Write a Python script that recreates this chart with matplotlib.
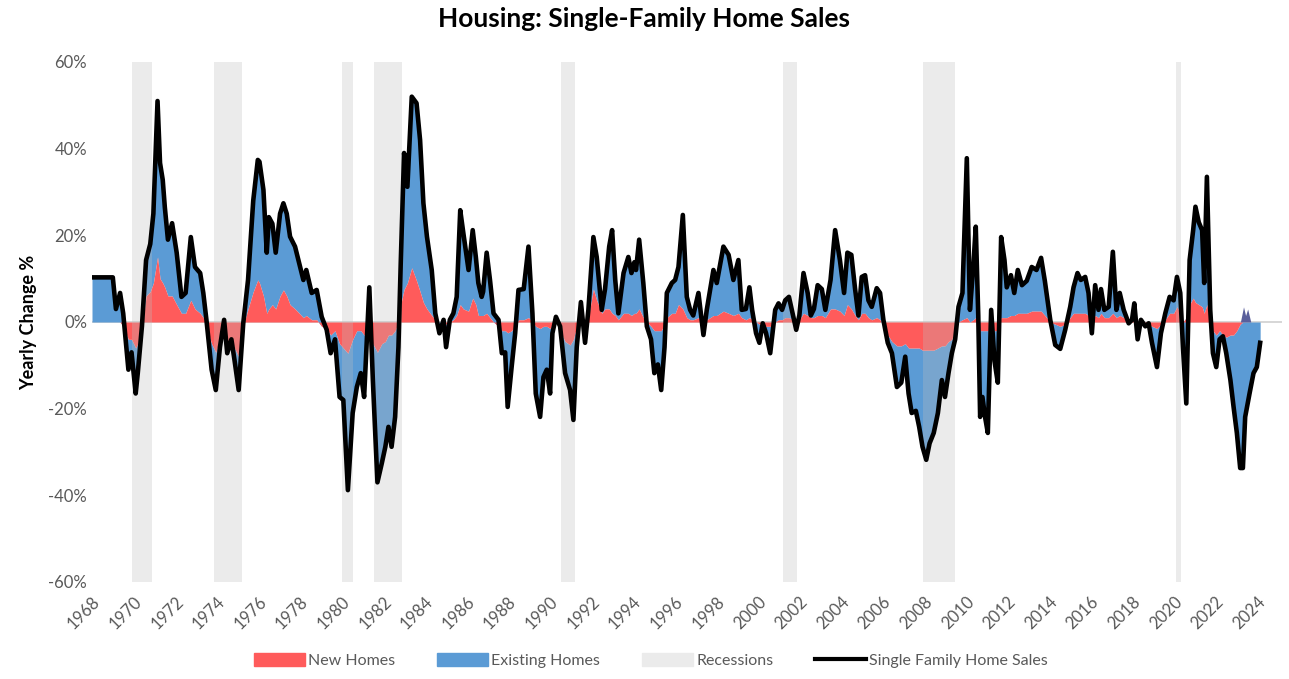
import matplotlib
matplotlib.use("Agg")
import matplotlib.pyplot as plt
import matplotlib.patches as mpatches
import matplotlib.lines as mlines
import numpy as np

plt.rcParams['font.family'] = ['Lato', 'DejaVu Sans']

# decimal year, total yearly change %, new-home contribution %
dates = [
    1968.0, 1969.0, 1969.15, 1969.35, 1969.5, 1969.75, 1969.9, 1970.1, 1970.2, 1970.4,
    1970.6, 1970.8, 1970.95, 1971.15, 1971.27, 1971.4, 1971.5, 1971.65, 1971.85, 1972.07,
    1972.3, 1972.5, 1972.75, 1972.95, 1973.2, 1973.35, 1973.5, 1973.75, 1973.95, 1974.15,
    1974.35, 1974.5, 1974.7, 1974.85, 1975.05, 1975.27, 1975.5, 1975.75, 1975.97, 1976.05,
    1976.24, 1976.4, 1976.5, 1976.67, 1976.83, 1977.04, 1977.2, 1977.36, 1977.52, 1977.76,
    1978.16, 1978.3, 1978.56, 1978.8, 1979.04, 1979.28, 1979.47, 1979.68, 1979.9, 1980.08,
    1980.3, 1980.53, 1980.73, 1980.92, 1981.08, 1981.33, 1981.5, 1981.72, 1981.93, 1982.1,
    1982.25, 1982.4, 1982.57, 1982.73, 1982.84, 1983.0, 1983.16, 1983.37, 1983.6, 1983.77,
    1983.93, 1984.1, 1984.33, 1984.5, 1984.7, 1984.9, 1985.02, 1985.2, 1985.37, 1985.53,
    1985.7, 1985.85, 1986.1, 1986.3, 1986.45, 1986.57, 1986.73, 1986.8, 1986.97, 1987.13,
    1987.3, 1987.54, 1987.7, 1987.86, 1987.98, 1988.17, 1988.34, 1988.5, 1988.75, 1988.98,
    1989.17, 1989.33, 1989.54, 1989.7, 1989.86, 1990.02, 1990.13, 1990.3, 1990.5, 1990.74,
    1990.98, 1991.14, 1991.3, 1991.5, 1991.7, 1991.86, 1992.1, 1992.26, 1992.5, 1992.66,
    1992.86, 1993.0, 1993.15, 1993.3, 1993.55, 1993.78, 1993.93, 1994.07, 1994.15, 1994.3,
    1994.5, 1994.67, 1994.87, 1995.03, 1995.2, 1995.36, 1995.52, 1995.63, 1995.87, 1996.03,
    1996.19, 1996.4, 1996.59, 1996.75, 1996.9, 1997.15, 1997.39, 1997.55, 1997.87, 1998.03,
    1998.35, 1998.6, 1998.83, 1999.07, 1999.23, 1999.43, 1999.6, 1999.73, 1999.92, 2000.08,
    2000.24, 2000.4, 2000.6, 2000.84, 2001.0, 2001.17, 2001.32, 2001.5, 2001.7, 2001.85,
    2002.0, 2002.2, 2002.4, 2002.55, 2002.7, 2002.88, 2003.08, 2003.25, 2003.5, 2003.72,
    2003.95, 2004.15, 2004.31, 2004.5, 2004.68, 2004.84, 2005.0, 2005.16, 2005.32, 2005.48,
    2005.72, 2005.88, 2006.04, 2006.25, 2006.45, 2006.69, 2006.9, 2007.09, 2007.25, 2007.4,
    2007.6, 2007.76, 2007.92, 2008.1, 2008.26, 2008.46, 2008.66, 2008.85, 2009.0, 2009.17,
    2009.33, 2009.49, 2009.65, 2009.84, 2010.05, 2010.2, 2010.36, 2010.48, 2010.6, 2010.69,
    2010.8, 2010.93, 2011.06, 2011.22, 2011.38, 2011.54, 2011.7, 2011.86, 2011.97, 2012.17,
    2012.33, 2012.5, 2012.7, 2012.93, 2013.17, 2013.4, 2013.62, 2013.8, 2014.06, 2014.3,
    2014.54, 2014.78, 2015.02, 2015.18, 2015.37, 2015.53, 2015.74, 2015.9, 2016.06, 2016.22,
    2016.38, 2016.5, 2016.66, 2016.87, 2017.07, 2017.24, 2017.4, 2017.59, 2017.83, 2017.99,
    2018.1, 2018.26, 2018.42, 2018.63, 2018.79, 2018.95, 2019.19, 2019.38, 2019.59, 2019.8,
    2019.99, 2020.15, 2020.31, 2020.44, 2020.6, 2020.76, 2020.93, 2021.04, 2021.2, 2021.36,
    2021.46, 2021.59, 2021.75, 2021.88, 2022.04, 2022.2, 2022.36, 2022.52, 2022.72, 2022.87,
    2023.03, 2023.19, 2023.32, 2023.43, 2023.64, 2023.83, 2023.99, 2024.15,
]
total = [
    10.3, 10.3, 3.0, 6.7, 2.0, -11, -7, -16.5, -11.8, -1,
    14.3, 18, 25, 51, 36.7, 32.8, 26.5, 19, 22.8, 16,
    5.8, 6.7, 19.6, 12.7, 11.3, 6.7, 0.5, -11, -15.7, -5.8,
    0.5, -7.2, -4, -8.8, -15.7, -0.3, 9.7, 28, 37.4, 37,
    30.5, 16, 24.2, 22.7, 16, 25, 27.4, 25, 19.7, 17.4,
    9.7, 12, 6.7, 7.4, 1.2, -1.8, -7.2, -4, -17.3, -18,
    -38.8, -21, -15, -11.8, -17.3, 8, -13.4, -37, -32.6, -28.8,
    -24.2, -28.8, -21.9, -5.8, 13.6, 39, 31.2, 52, 50.5, 42,
    27.4, 19.7, 12, 2, -2.6, 0.5, -5.8, 0.5, 2, 5.8,
    25.8, 20.5, 12, 21.2, 15, 9, 5.8, 7, 16, 9.7,
    2, 0.5, -7.2, -7, -19.6, -10.4, -2.6, 7.4, 7.6, 17.4,
    2, -16.5, -21.9, -12.7, -11, -16.5, -2.6, 1.2, -1, -11.8,
    -15.7, -22.6, -5.8, 4.6, -4.8, 2.8, 19.6, 15, 2.8, 7.6,
    17.4, 21.2, 9.7, 2, 11.3, 15, 11.3, 13.8, 12, 19,
    9, -1, -4, -11.8, -9.8, -15.7, -5.8, 6.7, 9, 9.7,
    12.7, 24.7, 5.8, 2.8, 1.5, 6.7, -3, 2.8, 12, 9,
    17.4, 15.5, 9.7, 14.3, 2.8, 3, 8, 2.8, -2.6, -4.8,
    -0.3, -2.6, -7.2, 2.8, 4.3, 2.8, 5, 5.8, 1.5, -1.8,
    1.5, 11.3, 6.7, 1.5, 3, 8.5, 7.6, 2.8, 9.7, 21.2,
    14.3, 6.7, 16, 15.5, 7.6, 1.5, 10.4, 10.8, 5, 3.5,
    7.8, 6.7, 0.5, -4.8, -7.2, -15, -14, -8, -16.5, -21,
    -20.5, -24.2, -28.8, -31.8, -28, -25.6, -21, -13.4, -17.3, -11.8,
    -7.2, -4, 3.5, 6.7, 37.8, 2.8, 12.7, 22, 1.5, -21.9,
    -17.3, -22, -25.6, 2.8, -9, -14, 19.6, 14.3, 8, 10.8,
    6.7, 12, 8.5, 9.5, 12.7, 12, 14.8, 9.5, 0.5, -5.3,
    -6.2, -1.8, 3.5, 8, 11.3, 9.7, 10.4, 6.7, -2.6, 8.5,
    2.8, 7.6, 2.8, 3.5, 16.2, 2.8, 6.7, 2.8, -0.3, 0.5,
    4.3, -4, 0.5, -1, -0.3, -4.8, -10.4, -2.6, 2, 5.8,
    5, 10.4, 6.7, -5.8, -18.8, 14.3, 21.2, 26.6, 23, 21.2,
    9, 33.5, 2.8, -7.2, -10.4, -4, -3.3, -7.2, -13.4, -19.5,
    -25.6, -33.7, -33.7, -21.9, -16.5, -11.8, -10.4, -4.8,
]
new_homes = [
    0, 0, 0, 0, -1, -4, -4, -6, -5, -2,
    6, 7, 9, 15, 10, 9, 8, 6, 6, 4,
    2, 2, 5, 3, 2, 1, -1, -5, -7, -4,
    -2, -5, -4, -6, -8, -1, 3, 7, 9.7, 9,
    6, 2, 3, 4, 3, 6, 7.4, 6, 4, 3,
    1, 1.5, 0.5, 0.5, -1, -1.5, -3, -2, -5, -6,
    -7.2, -4, -2, -2, -3, -3, -5, -7, -5, -4.5,
    -3, -3, -2, 0, 4, 7.5, 9, 12.5, 9.5, 7,
    4.5, 3, 1.5, 0.5, 0, 0, -0.5, 0, 0.5, 1.5,
    4, 3, 2.5, 5.5, 4, 1.5, 1.5, 1.5, 2, 1,
    0, -1, -2, -2, -2.5, -2, -1, 0.5, 0.5, 1,
    0, -1, -1.5, -1, -1, -1.5, -0.5, 0, -2, -4.5,
    -5.3, -4, -1, 1, 0, 1, 7.6, 5, 2, 3,
    3, 2, 1.5, 0.5, 2, 2, 1.5, 2, 2, 3,
    1, 0, -1, -2, -2, -2, -0.5, 1, 2, 2,
    4, 3, 1, 0.5, 0.5, 1, 0, 0.5, 1.5, 1.5,
    2.5, 2, 1.5, 2, 1, 0.5, 1, 0.5, 0, -0.5,
    -0.5, -1, -1, 0, 0.5, 0.5, 1, 1, 0.5, 0,
    0.5, 2, 1.5, 1, 1, 1.5, 1.5, 1, 3, 3,
    2.5, 1.5, 4, 3, 1.5, 0.5, 2, 2, 1, 0.5,
    1, 0.5, -1, -3, -4.5, -5.5, -5.5, -5, -6, -6,
    -6, -6, -6.5, -6.5, -6.5, -6.5, -6, -5.5, -5.5, -4.5,
    -4, -2, 0, 0.5, 1, 0, 0.5, 1, -1, -2,
    -2, -2, -2, -1, -2, -2, 1, 1, 1, 1.5,
    1.5, 2, 2, 2, 2.5, 2.5, 2.5, 1.5, 0, -0.5,
    -1, -0.5, 1, 2, 2, 2, 2, 1.5, 0, 1.5,
    1, 2, 1, 1, 2, 1, 1.5, 1, 0.5, 0.5,
    1, 0, 0, -0.5, -0.5, -1, -1.5, -0.5, 0.5, 2,
    2, 3.5, 2, 0, 1, 4, 5.5, 4.5, 4, 3.5,
    2, 4, 0, -2, -3, -2, -3, -3.5, -3, -3,
    -2, -0.5, 0, 0, 0, 0, 0, 0,
]

# small unlabelled residual series visible in 2023
other_dates = [2023.2, 2023.35, 2023.45, 2023.55, 2023.7]
other_vals = [0, 3.5, 1.5, 3.0, 0]

recessions = [(1969.92, 1970.88), (1973.88, 1975.2), (1980.0, 1980.55), (1981.55, 1982.88),
              (1990.55, 1991.2), (2001.2, 2001.88), (2007.92, 2009.5), (2020.12, 2020.33)]

years = list(range(1968, 2025, 2))

d = np.array(dates)
tot = np.array(total)
new = np.array(new_homes)

fig = plt.figure(figsize=(12.89, 6.79), dpi=100)
ax = fig.add_axes([92/1289, 1-582/679, (1282-92)/1289, (582-62)/679])

ax.axhline(0, color='#d0d0d0', lw=1.2, zorder=1)
ax.fill_between(d, new, tot, color='#5b9bd5', lw=0, zorder=2)
ax.fill_between(d, 0, new, color='#ff5b5b', lw=0, zorder=3)
ax.fill_between(other_dates, 0, other_vals, color='#5a5f9c', lw=0, zorder=3)
for a, b in recessions:
    ax.axvspan(a, b, color='#bebebe', alpha=0.3, lw=0, zorder=4)
ax.plot(d, tot, color='black', lw=3.3, zorder=5, solid_joinstyle='round')

ax.set_xlim(1968, 2025.2)
ax.set_ylim(-60, 60)
ax.set_yticks(range(-60, 61, 20))
ax.set_yticklabels([f'{v}%' for v in range(-60, 61, 20)])
ax.set_xticks(years)
ax.set_xticklabels([str(y) for y in years], rotation=45, ha='right', rotation_mode='anchor')
ax.tick_params(length=0, colors='#595959', labelsize=12)
ax.tick_params(axis='x', pad=8)
for s in ax.spines.values():
    s.set_visible(False)

ax.set_ylabel('Yearly Change %', fontsize=13, fontweight='bold', labelpad=8)
fig.suptitle('Housing: Single-Family Home Sales', fontsize=19, fontweight='bold', y=0.99)

handles = [mpatches.Patch(color='#ff5b5b', label='New Homes'),
           mpatches.Patch(color='#5b9bd5', label='Existing Homes'),
           mpatches.Patch(color='#ebebeb', label='Recessions'),
           mlines.Line2D([], [], color='black', lw=3, label='Single Family Home Sales')]
leg = fig.legend(handles=handles, loc='lower center', ncol=4, frameon=False,
                 bbox_to_anchor=(0.505, -0.005), fontsize=11.5, handlelength=3.2,
                 handleheight=0.9, columnspacing=2.6, handletextpad=0.2)
for t in leg.get_texts():
    t.set_color('#595959')

fig.savefig('out.png', dpi=100)
